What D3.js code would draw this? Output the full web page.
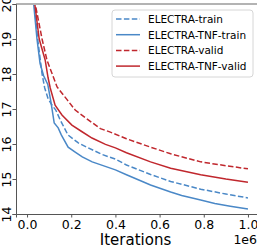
<!DOCTYPE html>
<html>
<head>
<meta charset="utf-8">
<script src="https://cdn.jsdelivr.net/npm/d3@7"></script>
<style>
  body { margin: 0; background: #fff; }
  svg { display: block; font-family: "DejaVu Sans", sans-serif; }
</style>
</head>
<body>
<svg id="chart" width="257" height="248"></svg>
<script>
// iterations in units of 1e6, loss values
var electraTrain = [[0.025, 20.8], [0.033, 20.0], [0.048, 19.0], [0.06, 18.4], [0.068, 18.0], [0.08, 17.6],
    [0.095, 17.3], [0.114, 17.1], [0.13, 16.97], [0.15, 16.69], [0.185, 16.26], [0.232, 16.03],
    [0.277, 15.89], [0.34, 15.7], [0.4, 15.57], [0.45, 15.4], [0.559, 15.13], [0.65, 14.93],
    [0.786, 14.71], [0.9, 14.57], [1.0, 14.46]]
var tnfTrain = [[0.025, 20.6], [0.03, 20.0], [0.045, 19.0], [0.059, 18.3], [0.075, 17.95], [0.094, 17.7],
    [0.109, 17.17], [0.123, 16.6], [0.141, 16.46], [0.155, 16.26], [0.186, 15.91], [0.218, 15.77],
    [0.25, 15.63], [0.295, 15.49], [0.364, 15.34], [0.4, 15.26], [0.45, 15.12], [0.514, 14.95],
    [0.559, 14.83], [0.65, 14.63], [0.7, 14.53], [0.786, 14.4], [0.85, 14.3], [0.92, 14.22], [1.0, 14.14]]
var electraValid = [[0.028, 20.8], [0.037, 20.0], [0.068, 19.0], [0.09, 18.4], [0.114, 18.0], [0.136, 17.63],
    [0.182, 17.26], [0.218, 16.97], [0.277, 16.69], [0.332, 16.44], [0.377, 16.34], [0.45, 16.15],
    [0.559, 15.91], [0.65, 15.72], [0.786, 15.49], [0.9, 15.38], [1.0, 15.29]]
var tnfValid = [[0.027, 20.7], [0.035, 20.0], [0.055, 19.0], [0.082, 18.4], [0.095, 17.9], [0.105, 17.6],
    [0.127, 17.11], [0.158, 16.83], [0.203, 16.54], [0.249, 16.35], [0.294, 16.17], [0.355, 15.99],
    [0.4, 15.89], [0.45, 15.75], [0.559, 15.49], [0.65, 15.31], [0.786, 15.12], [0.9, 15.0], [1.0, 14.91]]

var seriesNames = ["ELECTRA-train", "ELECTRA-TNF-train", "ELECTRA-valid", "ELECTRA-TNF-valid"]
var xTicks = [0, 0.2, 0.4, 0.6, 0.8, 1.0]
var yTicks = [14, 15, 16, 17, 18, 19, 20]

var blue = "#4a88c7", red = "#c0272d"
var series = [
    { name: seriesNames[0], data: electraTrain, color: blue, dash: "5.5,2.4" },
    { name: seriesNames[1], data: tnfTrain, color: blue, dash: null },
    { name: seriesNames[2], data: electraValid, color: red, dash: "5.5,2.4" },
    { name: seriesNames[3], data: tnfValid, color: red, dash: null }
]

var svg = d3.select("#chart")
// plot box (right edge lies past the picture, as in the reference)
var pLeft = 16, pRight = 259, pTop = 4, pBottom = 214

var x = d3.scaleLinear().domain([-0.05, 1.05]).range([pLeft, pRight])
var y = d3.scaleLinear().domain([14, 20]).range([pBottom, pTop])

svg.append("clipPath").attr("id", "clip")
    .append("rect")
    .attr("x", pLeft).attr("y", pTop)
    .attr("width", pRight - pLeft).attr("height", pBottom - pTop)

var line = d3.line().x(d => x(d[0])).y(d => y(d[1]))

svg.append("g").attr("clip-path", "url(#clip)")
    .selectAll("path")
    .data(series)
    .join("path")
    .attr("d", d => line(d.data))
    .attr("fill", "none")
    .attr("stroke", d => d.color)
    .attr("stroke-width", 1.5)
    .attr("stroke-dasharray", d => d.dash)

// top spine
svg.append("line").attr("x1", pLeft).attr("x2", 257).attr("y1", pTop).attr("y2", pTop)
    .attr("stroke", "#b3b3b3").attr("stroke-width", 2)

var xAxis = svg.append("g")
    .attr("transform", `translate(0,${pBottom})`)
    .call(d3.axisBottom(x).tickValues(xTicks).tickFormat(d3.format(".1f")).tickSize(3.5).tickPadding(3))
var yAxis = svg.append("g")
    .attr("transform", `translate(${pLeft},0)`)
    .call(d3.axisLeft(y).tickValues(yTicks).tickSize(3.5))

xAxis.select(".domain").attr("stroke", "#555")
yAxis.select(".domain").attr("stroke", "#555")
svg.selectAll(".tick line").attr("stroke", "#555")

xAxis.selectAll("text")
    .attr("font-size", 12.5).attr("font-family", "DejaVu Sans").attr("fill", "#000")

// rotated y tick labels
yAxis.selectAll(".tick text").remove()
yAxis.selectAll(".tick")
    .append("text")
    .attr("transform", "translate(-5.5,0) rotate(-90)")
    .attr("text-anchor", "middle")
    .attr("font-size", 12.5)
    .attr("font-family", "DejaVu Sans")
    .attr("fill", "#000")
    .text(d => d)

svg.append("text")
    .attr("x", (pLeft + pRight) / 2 - 2).attr("y", 245)
    .attr("text-anchor", "middle")
    .attr("font-size", 15)
    .text("Iterations")

svg.append("text")
    .attr("x", 257).attr("y", 244)
    .attr("text-anchor", "end")
    .attr("font-size", 12.5)
    .text("1e6")

// legend
var legend = svg.append("g")
legend.append("rect")
    .attr("x", 112).attr("y", 10)
    .attr("width", 141).attr("height", 67)
    .attr("rx", 3)
    .attr("fill", "#fff").attr("fill-opacity", 0.8)
    .attr("stroke", "#d6d6d6").attr("stroke-width", 1)

var item = legend.selectAll("g.item")
    .data(series)
    .join("g")
    .attr("class", "item")
    .attr("transform", (d, i) => `translate(0,${19 + i * 15.7})`)

item.append("line")
    .attr("x1", 116).attr("x2", 140)
    .attr("stroke", d => d.color)
    .attr("stroke-width", 1.5)
    .attr("stroke-dasharray", d => d.dash)

item.append("text")
    .attr("x", 148).attr("y", 3.8)
    .attr("font-size", 10.5)
    .text(d => d.name)
</script>
</body>
</html>
